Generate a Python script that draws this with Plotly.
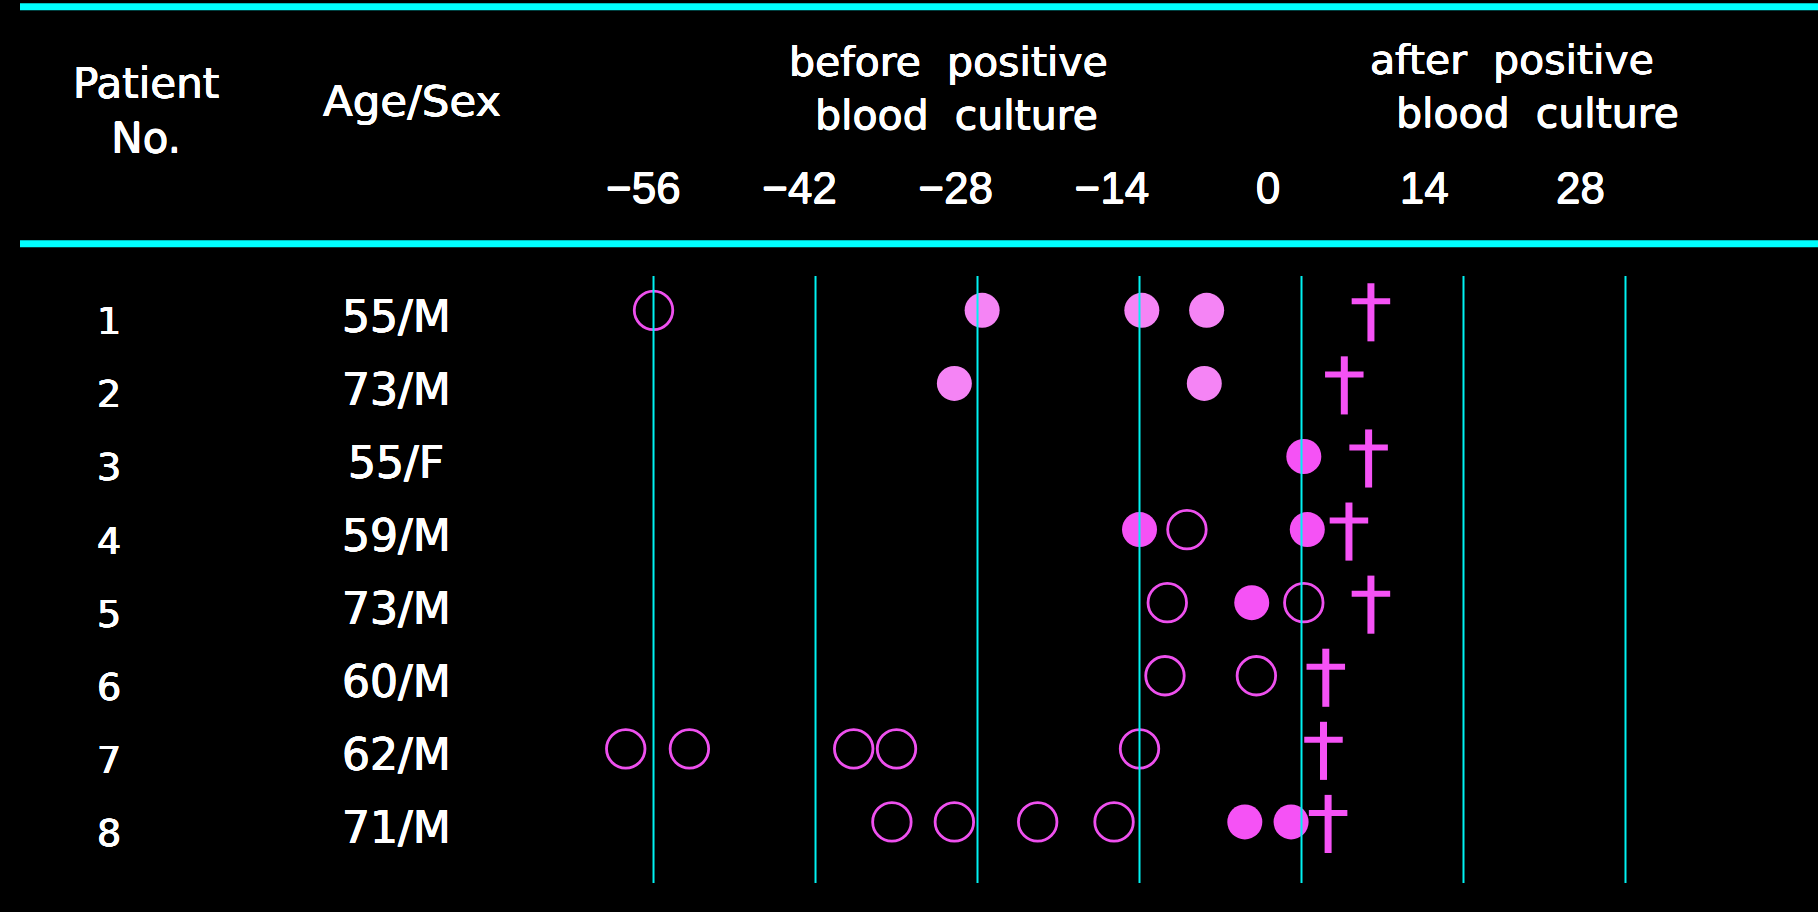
import plotly.graph_objects as go

# ---------------- data ----------------
patients = [1, 2, 3, 4, 5, 6, 7, 8]
age_sex = ["55/M", "73/M", "55/F", "59/M", "73/M", "60/M", "62/M", "71/M"]

tick_days = [-56, -42, -28, -14, 0, 14, 28]
tick_labels = ["\u221256", "\u221242", "\u221228", "\u221214", "0", "14", "28"]

# light pink filled circles (patients 1-2)
light_patient = [1, 1, 1, 2, 2]
light_day = [-27.6, -13.8, -8.2, -30.0, -8.4]

# magenta filled circles
filled_patient = [3, 4, 4, 5, 8, 8]
filled_day = [0.2, -14.0, 0.5, -4.3, -4.9, -0.9]

# open circles
open_patient = [1, 4, 5, 5, 6, 6, 7, 7, 7, 7, 7, 8, 8, 8, 8]
open_day = [-56.0, -9.9, -11.6, 0.2, -11.8, -3.9,
            -58.4, -52.9, -38.7, -35.0, -14.0,
            -35.4, -30.0, -22.8, -16.2]

# death (cross)
death_patient = [1, 2, 3, 4, 5, 6, 7, 8]
death_day = [6.0, 3.7, 5.8, 4.1, 6.0, 2.1, 1.9, 2.3]

# ---------------- layout constants ----------------
W, H = 1818, 912
FONT = "DejaVu Sans"
CYAN = "#00FFFF"
GRID = "#00F2F2"
LIGHT = "#F584F5"
MAG = "#F552F5"
OPEN = "#EE50EE"
# slight emboldening of the text (reference uses a medium-weight gothic face)
BOLDEN = ("0.4px 0px 0px white, -0.4px 0px 0px white, "
          "0px 0.4px 0px white, 0px -0.4px 0px white")

# main day axis: pixel = X0 + K * day
X0, K = 1301.5, 11.571
# header tick labels axis
LX0, LK = 1268.1, 11.156
# rows: pixel = R0 + RK * (row - 1)
R0, RK = 310.3, 73.09
TOP_PX, BOT_PX = 276, 883


def day_range(x0, k):
    return [(0 - x0) / k, (W - x0) / k]


row_top = 1 + (TOP_PX - R0) / RK
row_bot = 1 + (BOT_PX - R0) / RK

fig = go.Figure()

# circles
fig.add_trace(go.Scatter(
    x=light_day, y=light_patient, mode="markers",
    marker=dict(symbol="circle", size=35, color=LIGHT, line=dict(width=0)),
    hoverinfo="skip", showlegend=False))
fig.add_trace(go.Scatter(
    x=filled_day, y=filled_patient, mode="markers",
    marker=dict(symbol="circle", size=35, color=MAG, line=dict(width=0)),
    hoverinfo="skip", showlegend=False))
fig.add_trace(go.Scatter(
    x=open_day, y=open_patient, mode="markers",
    marker=dict(symbol="circle-open", size=38.5, color=OPEN,
                line=dict(width=2.8, color=OPEN)),
    hoverinfo="skip", showlegend=False))

# crosses: vertical stem + cross bar set slightly above
fig.add_trace(go.Scatter(
    x=death_day, y=[p + 2 / RK for p in death_patient], mode="markers",
    marker=dict(symbol="line-ns", size=41.5, color=MAG,
                line=dict(width=7, color=MAG)),
    hoverinfo="skip", showlegend=False))
fig.add_trace(go.Scatter(
    x=death_day, y=[p - 9 / RK for p in death_patient], mode="markers",
    marker=dict(symbol="line-ew", size=27.5, color=MAG,
                line=dict(width=6, color=MAG)),
    hoverinfo="skip", showlegend=False))

# invisible trace for the header tick axis
fig.add_trace(go.Scatter(
    x=tick_days, y=[None] * len(tick_days), xaxis="x2", mode="markers",
    hoverinfo="skip", showlegend=False))

shapes = []
# vertical day grid lines (drawn above the markers as in the reference)
for d in tick_days:
    shapes.append(dict(type="line", xref="x", yref="y domain",
                       x0=d, x1=d, y0=0, y1=1,
                       line=dict(color=GRID, width=2), layer="above"))
# thick cyan rules
for ypx in (6.7, 243.7):
    shapes.append(dict(type="line", xref="paper", yref="paper",
                       x0=20 / W, x1=1, y0=1 - ypx / H, y1=1 - ypx / H,
                       line=dict(color=CYAN, width=7), layer="above"))

annotations = []


def head(text, xpx, ytop, size, xanchor="center", align="center"):
    annotations.append(dict(
        text=text, xref="paper", yref="paper", x=xpx / W, y=1 - ytop / H,
        xanchor=xanchor, yanchor="top", align=align, showarrow=False,
        font=dict(family=FONT, size=size, color="white", shadow=BOLDEN)))


NB = "\u00a0"
head("Patient<br>No.", 146, 57.1, 42)
head("Age/Sex", 411.7, 74.3, 43.5)
head("before" + NB * 2 + "positive<br>" + NB * 2 + "blood" + NB * 2 + "culture",
     787, 36.2, 41, xanchor="left", align="left")
head("after" + NB * 2 + "positive<br>" + NB * 2 + "blood" + NB * 2 + "culture",
     1368, 33.6, 41, xanchor="left", align="left")

for p, a in zip(patients, age_sex):
    annotations.append(dict(
        text=str(p), xref="paper", yref="y", x=109 / W, y=p, yshift=-11,
        xanchor="center", yanchor="middle", showarrow=False,
        font=dict(family=FONT, size=38, color="white", shadow=BOLDEN)))
    annotations.append(dict(
        text=a, xref="paper", yref="y", x=396 / W, y=p, yshift=-6,
        xanchor="center", yanchor="middle", showarrow=False,
        font=dict(family=FONT, size=44, color="white", shadow=BOLDEN)))

fig.update_layout(
    width=W, height=H,
    margin=dict(l=0, r=0, t=0, b=0),
    paper_bgcolor="black", plot_bgcolor="black",
    showlegend=False,
    xaxis=dict(range=day_range(X0, K), showgrid=False, zeroline=False,
               showticklabels=False, showline=False, ticks="",
               domain=[0, 1], fixedrange=True),
    xaxis2=dict(range=day_range(LX0, LK), overlaying="x", side="top",
                anchor="free", position=1 - 212 / H,
                tickvals=tick_days, ticktext=tick_labels, ticks="",
                showgrid=False, zeroline=False, showline=False,
                tickfont=dict(family="Liberation Sans", size=44, color="white",
                              shadow=BOLDEN),
                fixedrange=True),
    yaxis=dict(range=[row_bot, row_top], domain=[1 - BOT_PX / H, 1 - TOP_PX / H],
               visible=False, showgrid=False, zeroline=False, fixedrange=True),
    shapes=shapes,
    annotations=annotations,
)

fig.write_html("out.html", config={"displayModeBar": False},
               post_script="document.body.style.margin='0px';"
                           "document.body.style.overflow='hidden';")
